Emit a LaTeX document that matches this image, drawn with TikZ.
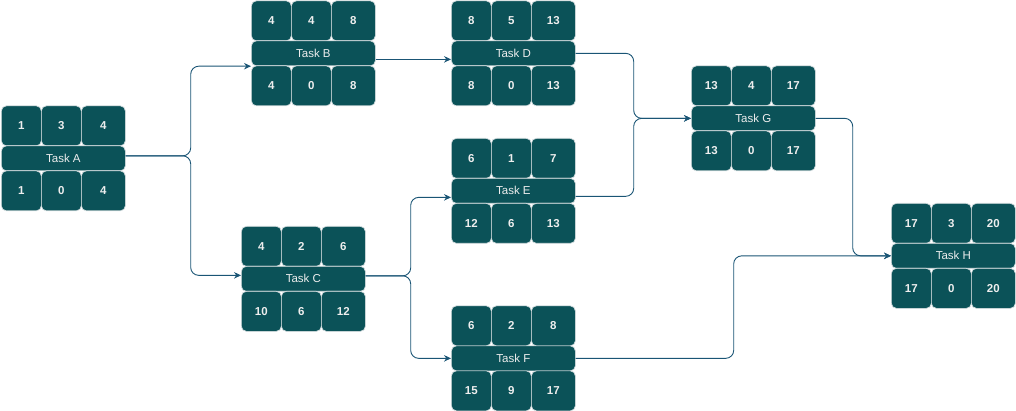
\documentclass[tikz,border=0pt]{standalone}
\usepackage{fontspec}
\setmainfont{Liberation Sans}
\usetikzlibrary{arrows.meta}
\definecolor{cellfill}{HTML}{0B5258}
\definecolor{cellline}{HTML}{D6DEE0}
\definecolor{celltext}{HTML}{EEEEEE}
\definecolor{edgecol}{HTML}{1A5575}
\tikzset{
  cell/.style={draw=cellline, fill=cellfill, line width=0.7pt, rounded corners=5pt,
    inner sep=0pt, anchor=north west, text=celltext,
    font=\fontsize{11.5}{13}\selectfont\bfseries},
  barbox/.style={cell, minimum width=124pt, minimum height=25pt,
    font=\fontsize{11.5}{13}\selectfont},
  edge/.style={draw=edgecol, line width=0.9pt, rounded corners=8pt,
    -{Stealth[length=7pt,width=6.5pt]}},
}
% #1 name, #2 x, #3 y, #4..#9 values
\newcommand\taskbox[9]{%
  \node[cell, minimum width=40pt, minimum height=40pt] (#1a) at (#2,#3) {#4};
  \node[cell, minimum width=40pt, minimum height=40pt] (#1b) at (#2+40,#3) {#5};
  \node[cell, minimum width=44pt, minimum height=40pt] (#1c) at (#2+80,#3) {#6};
  \node[barbox] (#1) at (#2,#3+40) {Task #1};
  \node[cell, minimum width=40pt, minimum height=40pt] (#1d) at (#2,#3+65) {#7};
  \node[cell, minimum width=40pt, minimum height=40pt] (#1e) at (#2+40,#3+65) {#8};
  \node[cell, minimum width=44pt, minimum height=40pt] (#1f) at (#2+80,#3+65) {#9};
}
\begin{document}
\begin{tikzpicture}[x=1pt,y=-1pt]
\useasboundingbox (0,0) rectangle (1016,411);
\taskbox{A}{1}{105.5}{1}{3}{4}{1}{0}{4}
\taskbox{B}{251}{0.5}{4}{4}{8}{4}{0}{8}
\taskbox{D}{451}{0.5}{8}{5}{13}{8}{0}{13}
\taskbox{E}{451}{138}{6}{1}{7}{12}{6}{13}
\taskbox{G}{691}{65.5}{13}{4}{17}{13}{0}{17}
\taskbox{C}{241}{226}{4}{2}{6}{10}{6}{12}
\taskbox{F}{451}{305.5}{6}{2}{8}{15}{9}{17}
\taskbox{H}{891}{203}{17}{3}{20}{17}{0}{20}

\draw[edge] ([yshift=2.5pt]A.east) -- ++(65,0) |- (B.south west);
\draw[edge] ([yshift=2.5pt]A.east) -- ++(65,0) |- ([yshift=3.5pt]C.west);
\draw[edge] ([yshift=-6pt]B.east) -- ([yshift=-6pt]D.west);
\draw[edge] (D.east) -- ++(58,0) |- (G.west);
\draw[edge] ([yshift=-5.5pt]E.east) -- ++(58,0) |- (G.west);
\draw[edge] (G.east) -- ++(37,0) |- (H.west);
\draw[edge] ([yshift=3pt]C.east) -- ++(45,0) |- ([yshift=-6.5pt]E.west);
\draw[edge] ([yshift=3pt]C.east) -- ++(45,0) |- (F.west);
\draw[edge] (F.east) -- ++(158,0) |- (H.west);
\end{tikzpicture}
\end{document}
